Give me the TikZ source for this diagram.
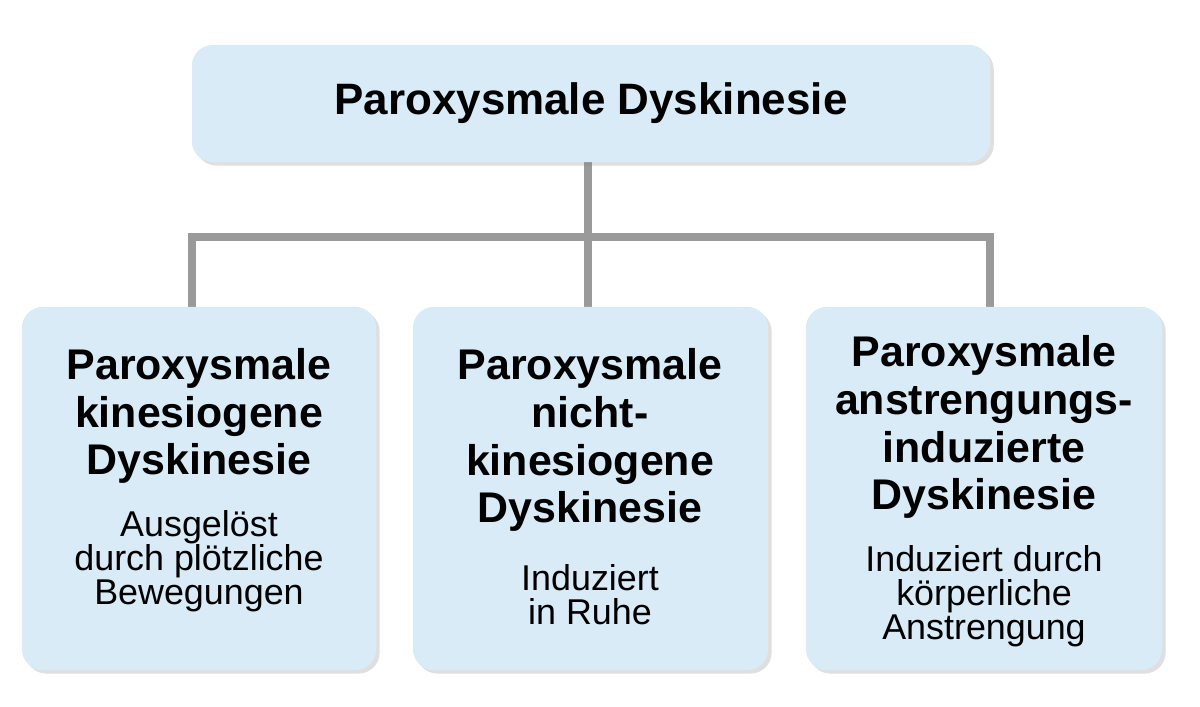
\documentclass[tikz,border=0pt]{standalone}
\usepackage{fontspec}
\setmainfont{Liberation Sans}
\usetikzlibrary{positioning,shadows}
\definecolor{boxblue}{HTML}{D8EBF7}
\definecolor{linegray}{HTML}{9A9A9A}
\tikzset{
  box/.style={fill=boxblue,rounded corners=6pt,drop shadow={opacity=0.25,shadow xshift=1pt,shadow yshift=-1pt}},
  head/.style={align=center,font=\fontsize{12.2}{13.6}\selectfont\bfseries},
  sub/.style={align=center,font=\fontsize{10.2}{9.7}\selectfont},
  link/.style={draw=linegray,line width=0.8mm}
}
\begin{document}
\begin{tikzpicture}[x=0.01cm,y=-0.01cm]
\useasboundingbox (0,0) rectangle (1200,707);

% connectors first
\coordinate (hub) at (588,237);
\coordinate (hl) at (192,237);
\coordinate (hr) at (990,237);
\draw[link] (588,160) -- (hub);
\draw[link] (192,310) -- (hl) -- (hr) -- (990,310);
\draw[link] (hub) -- (588,310);

% boxes
\node[box,minimum width=7.98cm,minimum height=1.17cm] (top) at (591,103.5) {};
\node[box,minimum width=3.54cm,minimum height=3.63cm] (left) at (199,488.5) {};
\node[box,minimum width=3.55cm,minimum height=3.63cm] (mid) at (590.5,488.5) {};
\node[box,minimum width=3.56cm,minimum height=3.63cm] (right) at (984,488.5) {};

% texts
\node[head,font=\fontsize{12.5}{14}\selectfont\bfseries] (toptext) at (top) {Paroxysmale Dyskinesie};
\node[head] (lefthead) at (199,416) {Paroxysmale\\kinesiogene\\Dyskinesie};
\node[sub] (leftsub) at (199,561) {Ausgelöst\\durch plötzliche\\Bewegungen};
\node[head] (midhead) at (590,440) {Paroxysmale\\nicht-\\kinesiogene\\Dyskinesie};
\node[sub] (midsub) at (590,595) {Induziert\\in Ruhe};
\node[head] (righthead) at (984,427) {Paroxysmale\\anstrengungs-\\induzierte\\Dyskinesie};
\node[sub] (rightsub) at (984,596) {Induziert durch\\körperliche\\Anstrengung};
\end{tikzpicture}
\end{document}
